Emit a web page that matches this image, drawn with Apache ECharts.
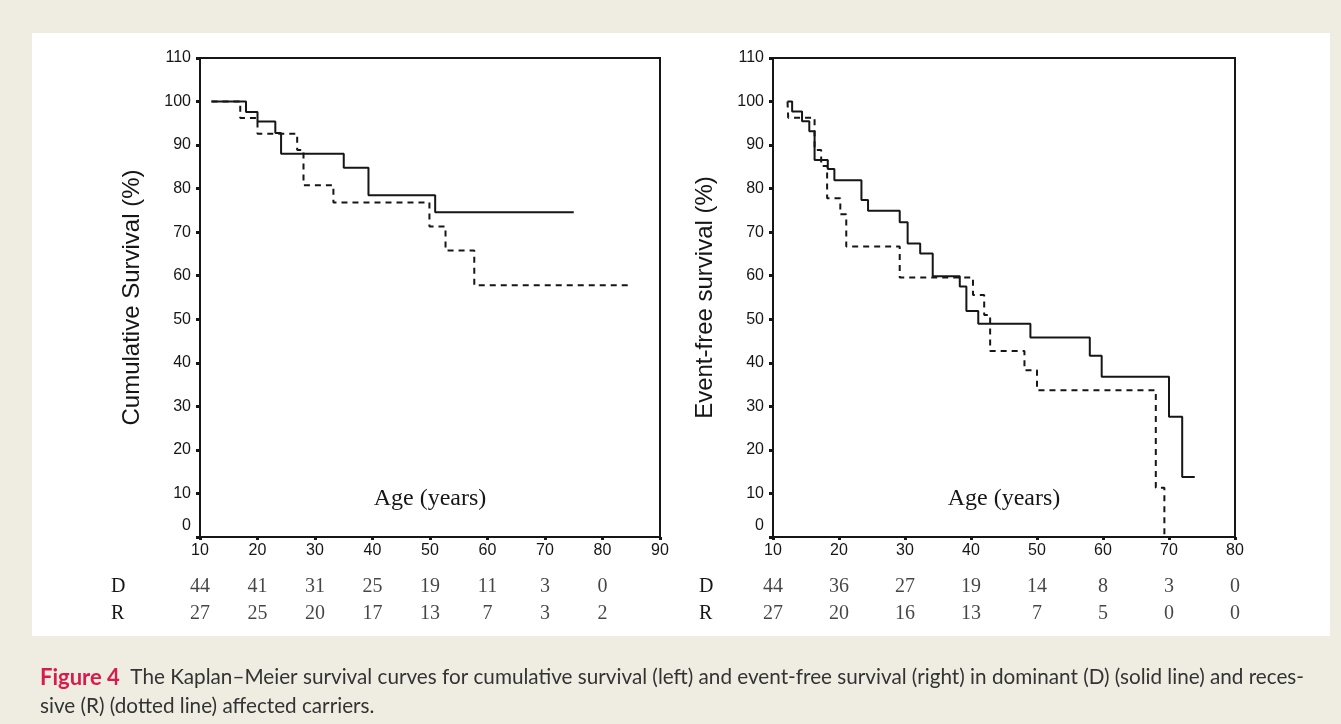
<!DOCTYPE html>
<html>
<head>
<meta charset="utf-8">
<script src="https://cdn.jsdelivr.net/npm/echarts@6/dist/echarts.min.js"></script>
<style>
html,body{margin:0;padding:0;background:#efece1;}
#chart{width:1341px;height:724px;}
</style>
</head>
<body>
<div id="chart"></div>
<script>
// ---------- data ----------
var xTicksLeft = [10, 20, 30, 40, 50, 60, 70, 80, 90];
var xTicksRight = [10, 20, 30, 40, 50, 60, 70, 80];
var yTicks = [0, 10, 20, 30, 40, 50, 60, 70, 80, 90, 100, 110];

// Left panel: cumulative survival
var leftDAge  = [12, 18, 20, 23.1, 24.1, 35, 39.3, 50.9, 75];
var leftDSurv = [100, 97.6, 95.4, 92.8, 88.0, 84.8, 78.5, 74.6, 74.6];
var leftRAge  = [12, 17, 20, 26.9, 28, 33.2, 49.9, 52.7, 57.7, 85.1];
var leftRSurv = [100, 96.2, 92.6, 88.9, 80.8, 76.8, 71.3, 65.8, 57.8, 57.8];

// Right panel: event-free survival
var rightDAge  = [12.2, 12.9, 14.4, 15.5, 16.3, 18.3, 19.3, 23.4, 24.4, 29.2, 30.4, 32.3, 34.2, 38.3, 39.3, 41.1, 49.0, 58.0, 59.8, 70.0, 72.0, 73.9];
var rightDSurv = [100, 97.7, 95.5, 93.2, 86.6, 84.5, 81.9, 77.4, 74.9, 72.3, 67.4, 65.1, 59.9, 57.5, 51.9, 49.0, 45.8, 41.6, 36.8, 27.6, 13.8, 13.8];
var rightRAge  = [12.2, 12.3, 16.3, 17.3, 18.2, 20.2, 21.1, 29.2, 40.3, 42.0, 42.9, 48.1, 50.0, 68.0, 69.3];
var rightRSurv = [100, 96.3, 88.9, 85.2, 77.8, 74.1, 66.7, 59.6, 55.6, 51.0, 42.7, 38.3, 33.7, 11.3, 0];

// Numbers at risk
var riskGroups = ['D', 'R'];
var leftRiskAges = [10, 20, 30, 40, 50, 60, 70, 80];
var leftRiskD = [44, 41, 31, 25, 19, 11, 3, 0];
var leftRiskR = [27, 25, 20, 17, 13, 7, 3, 2];
var rightRiskAges = [10, 20, 30, 40, 50, 60, 70, 80];
var rightRiskD = [44, 36, 27, 19, 14, 8, 3, 0];
var rightRiskR = [27, 20, 16, 13, 7, 5, 0, 0];

var leftYTitle = 'Cumulative Survival (%)';
var rightYTitle = 'Event-free survival (%)';
var xTitle = 'Age (years)';
var captionLead = 'Figure 4';
var captionLine1 = 'The Kaplan\u2013Meier survival curves for cumulative survival (left) and event-free survival (right) in dominant (D) (solid line) and reces-';
var captionLine2 = 'sive (R) (dotted line) affected carriers.';

// ---------- helpers ----------
function zip(a, b) { return a.map(function (v, i) { return [v, b[i]]; }); }
function riskData(ages, d, r) {
  var out = [];
  ages.forEach(function (a, i) { out.push([a, riskGroups[0], d[i]]); });
  ages.forEach(function (a, i) { out.push([a, riskGroups[1], r[i]]); });
  return out;
}

var SANS = '"Liberation Sans", Arial, sans-serif';
var SERIF = '"Liberation Serif", "Times New Roman", serif';
var CAP = 'Lato, "Open Sans", sans-serif';
var INK = '#161616';

function plotX(max, gridIndex) {
  return {
    type: 'value', gridIndex: gridIndex, min: 10, max: max, interval: 10,
    name: xTitle, nameLocation: 'middle', nameGap: -50,
    nameTextStyle: { fontFamily: SERIF, fontSize: 24, color: INK },
    axisLine: { show: true, lineStyle: { color: INK, width: 2 } },
    axisTick: { show: true, length: 3, lineStyle: { color: INK, width: 3 } },
    axisLabel: { margin: 6, fontFamily: SANS, fontSize: 16, color: INK },
    splitLine: { show: false }
  };
}
function plotY(name, gridIndex) {
  return {
    type: 'value', gridIndex: gridIndex, min: 0, max: 110, interval: 10,
    name: name, nameLocation: 'middle', nameGap: 56, nameRotate: 90,
    nameTextStyle: { fontFamily: SANS, fontSize: 24, color: INK },
    axisLine: { show: true, lineStyle: { color: INK, width: 2 } },
    axisTick: { show: true, length: 4, lineStyle: { color: INK, width: 3 } },
    axisLabel: {
      margin: 9, fontFamily: SANS, fontSize: 16, color: INK,
      formatter: function (v) { return v === 0 ? '{z|0}' : String(v); },
      rich: { z: { fontFamily: SANS, fontSize: 16, color: INK, padding: [0, 0, 22, 0] } }
    },
    splitLine: { show: false }
  };
}
function riskX(max, gridIndex) {
  return { type: 'value', gridIndex: gridIndex, min: 10, max: max, show: false };
}
function riskY(gridIndex, margin) {
  return {
    type: 'category', gridIndex: gridIndex, data: riskGroups, inverse: true,
    axisLine: { show: false }, axisTick: { show: false },
    axisLabel: { margin: margin, fontFamily: SERIF, fontSize: 20, color: INK, align: 'left' }
  };
}
function stepLine(name, data, xi, yi, dashed) {
  return {
    name: name, type: 'line', step: 'end', xAxisIndex: xi, yAxisIndex: yi,
    data: data, symbol: 'none', silent: true,
    lineStyle: { color: INK, width: 2, type: dashed ? [6, 5] : 'solid' }
  };
}
function riskSeries(data, xi, yi) {
  return {
    type: 'scatter', xAxisIndex: xi, yAxisIndex: yi, data: data,
    symbolSize: 1, itemStyle: { color: 'rgba(0,0,0,0)' }, silent: true,
    label: {
      show: true, position: 'inside',
      formatter: function (p) { return String(p.value[2]); },
      fontFamily: SERIF, fontSize: 20, color: INK
    }
  };
}

var chart = echarts.init(document.getElementById('chart'), null, { renderer: 'canvas' });
chart.setOption({
  backgroundColor: '#efece1',
  animation: false,
  graphic: [{
    type: 'rect', z: -10, silent: true,
    shape: { x: 32, y: 33, width: 1298, height: 603 },
    style: { fill: '#ffffff' }
  }],
  title: {
    left: 35, top: 658,
    text: '{r|' + captionLead + '}  ' + captionLine1 + '\n' + captionLine2,
    textStyle: {
      fontFamily: CAP, fontSize: 20.7, fontWeight: 'normal', color: '#333333', lineHeight: 29,
      rich: { r: { fontFamily: CAP, fontSize: 22, fontWeight: 'bold', color: '#d81b4f', lineHeight: 29 } }
    }
  },
  grid: [
    { left: 200, top: 58, width: 460, height: 479, show: true, borderColor: INK, borderWidth: 2, backgroundColor: 'transparent' },
    { left: 773, top: 58, width: 462, height: 479, show: true, borderColor: INK, borderWidth: 2, backgroundColor: 'transparent' },
    { left: 200, top: 573, width: 460, height: 54 },
    { left: 773, top: 573, width: 462, height: 54 }
  ],
  xAxis: [plotX(90, 0), plotX(80, 1), riskX(90, 2), riskX(80, 3)],
  yAxis: [plotY(leftYTitle, 0), plotY(rightYTitle, 1), riskY(2, 89), riskY(3, 74)],
  series: [
    stepLine('D', zip(leftDAge, leftDSurv), 0, 0, false),
    stepLine('R', zip(leftRAge, leftRSurv), 0, 0, true),
    stepLine('D', zip(rightDAge, rightDSurv), 1, 1, false),
    stepLine('R', zip(rightRAge, rightRSurv), 1, 1, true),
    riskSeries(riskData(leftRiskAges, leftRiskD, leftRiskR), 2, 2),
    riskSeries(riskData(rightRiskAges, rightRiskD, rightRiskR), 3, 3)
  ]
});
</script>
</body>
</html>
